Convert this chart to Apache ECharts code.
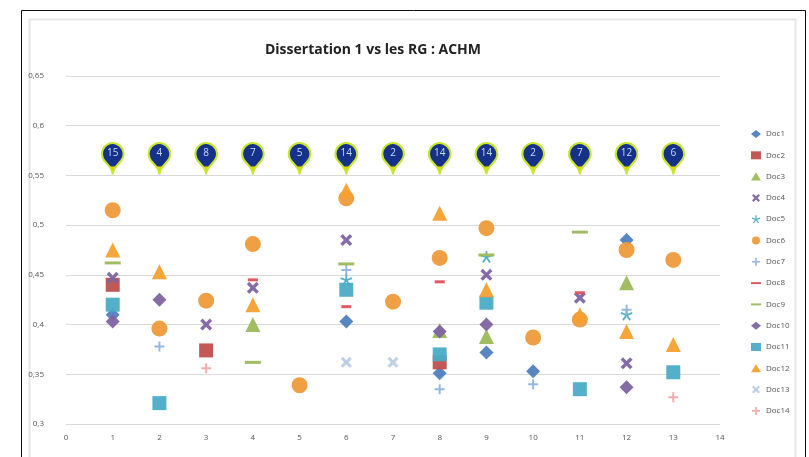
<!DOCTYPE html>
<html><head><meta charset="utf-8">
<script src="https://cdn.jsdelivr.net/npm/echarts@6/dist/echarts.min.js"></script>
<style>html,body{margin:0;padding:0;background:#fff}#c{width:809px;height:457px}</style>
</head><body><div id="c"></div>
<script>
const xValues = [1,2,3,4,5,6,7,8,9,10,11,12,13];
const pinCounts = [15,4,8,7,5,14,2,14,14,2,7,12,6];
const pinLevel = 0.551;
const yTicks = [0.3,0.35,0.4,0.45,0.5,0.55,0.6,0.65];
const seriesNames = ['Doc1','Doc2','Doc3','Doc4','Doc5','Doc6','Doc7','Doc8','Doc9','Doc10','Doc11','Doc12','Doc13','Doc14'];
const doc1  = [0.41, null, null, null, null, 0.403, null, 0.351, 0.372, 0.353, null, 0.485, null];
const doc2  = [0.44, null, 0.374, null, null, null, null, 0.362, null, null, null, null, null];
const doc3  = [null, null, null, 0.40, null, null, null, 0.394, 0.388, null, null, 0.442, null];
const doc4  = [0.447, null, 0.40, 0.437, null, 0.485, null, null, 0.45, null, 0.427, 0.361, null];
const doc5  = [null, null, null, null, null, 0.445, null, null, 0.468, null, null, 0.41, null];
const doc6  = [0.515, 0.396, 0.424, 0.481, 0.339, 0.527, 0.423, 0.467, 0.497, 0.387, 0.405, 0.475, 0.465];
const doc7  = [null, 0.378, null, null, null, 0.455, null, 0.335, null, 0.34, null, 0.415, null];
const doc8  = [null, null, null, 0.445, null, 0.418, null, 0.443, null, null, 0.432, null, null];
const doc9  = [0.462, null, null, 0.362, null, 0.461, null, null, 0.47, null, 0.493, null, null];
const doc10 = [0.403, 0.425, null, null, null, null, null, 0.393, 0.40, null, null, 0.337, null];
const doc11 = [0.42, 0.321, null, null, null, 0.435, null, 0.37, 0.422, null, 0.335, null, 0.352];
const doc12 = [0.475, 0.453, null, 0.42, null, 0.535, null, 0.512, 0.435, null, 0.41, 0.393, 0.38];
const doc13 = [null, null, null, null, null, 0.362, 0.362, null, null, null, null, null, null];
const doc14 = [null, null, 0.356, null, null, null, null, null, null, null, null, null, 0.327];
const docValues = [doc1,doc2,doc3,doc4,doc5,doc6,doc7,doc8,doc9,doc10,doc11,doc12,doc13,doc14];

const X_PATH = 'path://M2,0L5,3L8,0L10,2L7,5L10,8L8,10L5,7L2,10L0,8L3,5L0,2Z';
const PLUS_PATH = 'path://M4,0H6V4H10V6H6V10H4V6H0V4H4Z';
const STAR_PATH = 'path://M4.3,0H5.7V3.8L9.3,2.6L9.7,3.9L6.1,5.1L8.4,8.2L7.2,9L5,5.9L2.8,9L1.6,8.2L3.9,5.1L0.3,3.9L0.7,2.6L4.3,3.8Z';
const DASH_PATH = 'path://M0,0H10V2H0Z';
const styles = [
  {symbol:'diamond', size:14, color:'#4F7FC0'},
  {symbol:'rect', size:14, color:'#C0504D'},
  {symbol:'triangle', size:15, color:'#9BBB59'},
  {symbol:X_PATH, size:12, color:'#8064A2'},
  {symbol:STAR_PATH, size:12, color:'#4BACC6'},
  {symbol:'circle', size:16, color:'#EE9A3A'},
  {symbol:PLUS_PATH, size:10, color:'#8FB4E3'},
  {symbol:DASH_PATH, size:[10,3], color:'#E0505A'},
  {symbol:DASH_PATH, size:[16,3], color:'#9BBB59'},
  {symbol:'diamond', size:14, color:'#8064A2'},
  {symbol:'rect', size:14, color:'#4BACC6'},
  {symbol:'triangle', size:15, color:'#F5A030'},
  {symbol:X_PATH, size:11, color:'#B9CDE5'},
  {symbol:PLUS_PATH, size:10, color:'#F2A7A7'}
];

const series = seriesNames.map((name, i) => ({
  name, type:'scatter', symbol: styles[i].symbol, symbolSize: styles[i].size,
  itemStyle:{color: styles[i].color, opacity:0.95},
  data: docValues[i].map((v, k) => v == null ? null : [xValues[k], v]).filter(d => d),
  z: 3
}));

series.push({
  name:'count', type:'scatter', symbol:'pin', symbolSize:36,
  itemStyle:{
    opacity:1,
    color:{type:'linear',x:0,y:0,x2:0,y2:1,colorStops:[
      {offset:0,color:'#15318A'},{offset:0.7,color:'#15318A'},{offset:0.76,color:'#E6D400'},{offset:1,color:'#F0B800'}]},
    borderColor:'#C8E62A', borderWidth:2
  },
  label:{show:true, position:'inside', offset:[0,-2], formatter:p => pinCounts[p.dataIndex], color:'#C6DCFA', fontSize:10, fontFamily:'Open Sans'},
  data: xValues.map(x => [x, pinLevel]),
  z: 5
});

const chart = echarts.init(document.getElementById('c'), null, {renderer:'canvas'});
chart.setOption({
  animation:false,
  backgroundColor:'#fff',
  title:{text:'Dissertation 1 vs les RG : ACHM', left:368, top:38, textAlign:'center',
    textStyle:{fontFamily:'Open Sans', fontSize:14, fontWeight:'bold', color:'#222'}},
  graphic:[
    {type:'rect', shape:{x:21.5,y:10.5,width:784,height:460}, style:{fill:'none', stroke:'#111', lineWidth:1}, silent:true, z:-1},
    {type:'rect', shape:{x:29.5,y:19.5,width:766,height:460}, style:{fill:'none', stroke:'#e6e6e6', lineWidth:2}, silent:true, z:-1}
  ],
  legend:{
    orient:'vertical', left:746, top:125, itemGap:13.3, itemWidth:10, itemHeight:8,
    data: seriesNames,
    textStyle:{fontFamily:'Open Sans', fontSize:8, color:'#555'}
  },
  grid:{left:66, right:89, top:76, bottom:33, containLabel:false},
  xAxis:{type:'value', min:0, max:14, interval:1,
    axisLine:{show:false}, axisTick:{show:false}, splitLine:{show:false},
    axisLabel:{fontFamily:'Open Sans', fontSize:8, color:'#555', margin:10}},
  yAxis:{type:'value', min:0.3, max:0.65, interval:0.05,
    axisLine:{show:false}, axisTick:{show:false},
    splitLine:{show:true, lineStyle:{color:'#d9d9d9', width:1}},
    axisLabel:{fontFamily:'Open Sans', fontSize:8, color:'#555', margin:22,
      formatter: v => String(+v.toFixed(2)).replace('.', ',')}},
  series
});
</script></body></html>
